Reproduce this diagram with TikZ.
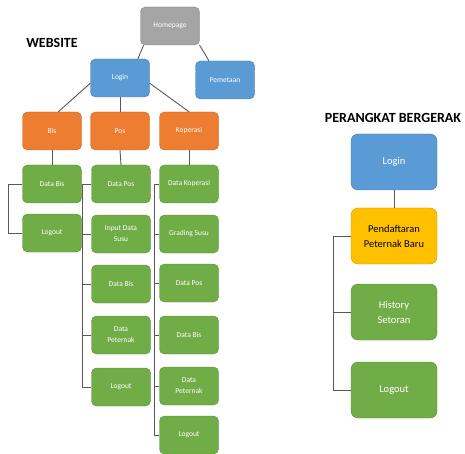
\documentclass[tikz,border=0pt]{standalone}
\usepackage{fontspec}
\setmainfont{Carlito}
\definecolor{boxgray}{HTML}{A5A5A5}
\definecolor{boxblue}{HTML}{5B9BD5}
\definecolor{boxorange}{HTML}{ED7D31}
\definecolor{boxgreen}{HTML}{70AD47}
\definecolor{boxyellow}{HTML}{FFC000}
\definecolor{linkgray}{HTML}{595959}
\tikzset{
  menu/.style={rounded corners=5pt, minimum width=59pt, minimum height=38pt,
               align=center, font=\fontsize{7.5}{11}\selectfont, text=white, inner sep=1pt},
  bigmenu/.style={menu, minimum width=86pt, minimum height=56pt,
                  font=\fontsize{10.5}{15}\selectfont, rounded corners=7pt},
  gray box/.style={fill=boxgray, draw=boxgray!75!black},
  blue box/.style={fill=boxblue, draw=boxblue!75!black},
  orange box/.style={fill=boxorange, draw=boxorange!80!black},
  green box/.style={fill=boxgreen, draw=boxgreen!80!black},
  yellow box/.style={fill=boxyellow, draw=boxyellow!80!black, text=black},
  link/.style={draw=linkgray, line width=0.9pt},
  title/.style={font=\fontsize{14}{16}\selectfont\bfseries}
}
\begin{document}
\begin{tikzpicture}[x=1pt,y=-1pt]
  \useasboundingbox (0,0) rectangle (465,454);

  % headings
  \node[title] (webtitle) at (52,43) {WEBSITE};
  \node[title] (mobtitle) at (393,118) {PERANGKAT BERGERAK};

  % website: top levels
  \node[menu, gray box] (homepage) at (170,26) {Homepage};
  \node[menu, blue box] (login) at (120,78) {Login};
  \node[menu, blue box] (pemetaan) at (225,80) {Pemetaan};
  \node[menu, orange box] (bis) at (52,131) {Bis};
  \node[menu, orange box] (pos) at (120,131) {Pos};
  \node[menu, orange box] (koperasi) at (189,131) {Koperasi};

  % website: bis column
  \node[menu, green box] (databisA) at (52,184) {Data Bis};
  \node[menu, green box] (logoutA) at (52,233) {Logout};

  % website: pos column
  \node[menu, green box] (dataposB) at (121,184) {Data Pos};
  \node[menu, green box] (inputsusuB) at (121,234) {Input Data\\Susu};
  \node[menu, green box] (databisB) at (121,284) {Data Bis};
  \node[menu, green box] (peternakB) at (121,335) {Data\\Peternak};
  \node[menu, green box] (logoutB) at (121,387) {Logout};

  % website: koperasi column
  \node[menu, green box] (datakopC) at (189,184) {Data Koperasi};
  \node[menu, green box] (gradingC) at (189,234) {Grading Susu};
  \node[menu, green box] (dataposC) at (189,283) {Data Pos};
  \node[menu, green box] (databisC) at (189,335) {Data Bis};
  \node[menu, green box] (peternakC) at (189,386) {Data\\Peternak};
  \node[menu, green box] (logoutC) at (189,435) {Logout};

  % mobile
  \node[bigmenu, blue box] (loginM) at (394,162) {Login};
  \node[bigmenu, yellow box] (daftarM) at (394,236) {Pendaftaran\\Peternak Baru};
  \node[bigmenu, green box] (historyM) at (394,312) {History\\Setoran};
  \node[bigmenu, green box] (logoutM) at (394,390) {Logout};

  % website links
  \draw[link] (homepage.216) -- (login.47);
  \draw[link] (homepage.-33) -- (pemetaan.130);
  \draw[link] (login.190) -- (bis.72);
  \draw[link] (login.south) -- (pos.north);
  \draw[link] (login.350) -- (koperasi.north);
  \draw[link] (bis.south) -- (databisA.north);
  \draw[link] (pos.south) -- (dataposB.north);
  \draw[link] (koperasi.south) -- (datakopC.north);

  % column brackets
  \draw[link] (databisA.west) -- ++(-14,0) |- (logoutA.west);
  \draw[link] (dataposB.west) -- ++(-9,0) |- (logoutB.west);
  \foreach \n in {inputsusuB,databisB,peternakB}
    \draw[link] (\n.west) -- ++(-9,0);
  \draw[link] (datakopC.west) -- ++(-5,0) |- (logoutC.west);
  \foreach \n in {gradingC,dataposC,databisC,peternakC}
    \draw[link] (\n.west) -- ++(-5,0);

  % mobile links
  \draw[link] (loginM.south) -- (daftarM.north);
  \draw[link] (daftarM.west) -- ++(-17,0) |- (logoutM.west);
  \draw[link] (historyM.west) -- ++(-17,0);
\end{tikzpicture}
\end{document}
